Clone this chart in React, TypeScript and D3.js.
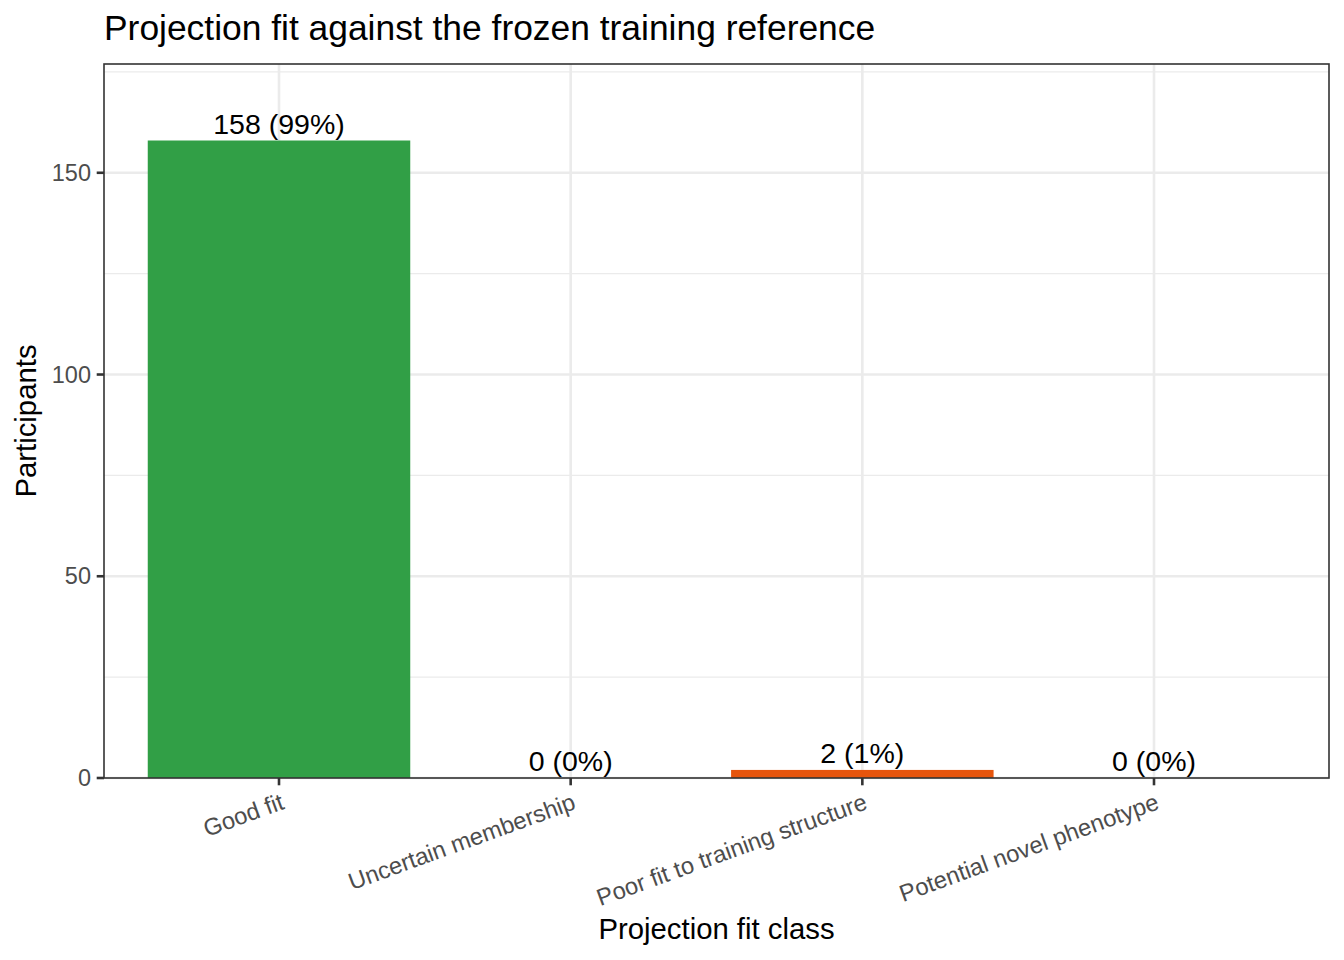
import React from "react";
import * as d3 from "d3";

const categories = [
  "Good fit",
  "Uncertain membership",
  "Poor fit to training structure",
  "Potential novel phenotype",
];
const counts = [158, 0, 2, 0];
const barColors = ["#319f46", "#7570b3", "#e6550d", "#984ea3"];
const yTicks = [0, 50, 100, 150];
const yMinorTicks = [25, 75, 125, 175];

const W = 1344;
const H = 960;
const panel = { left: 104, right: 1329, top: 64, bottom: 778 };
const FONT = "'Liberation Sans', Arial, Helvetica, sans-serif";

export default function App() {
  const total = d3.sum(counts);
  const x = d3
    .scalePoint<string>()
    .domain(categories)
    .range([panel.left, panel.right])
    .padding(0.6);
  const step = x.step();
  const barW = step * 0.9;
  const yMax = (d3.max(counts) as number) * 1.12;
  const y = d3.scaleLinear().domain([0, yMax]).range([panel.bottom, panel.top]);

  return (
    <svg
      width={W}
      height={H}
      style={{ display: "block", position: "absolute", left: 0, top: 0 }}
      fontFamily={FONT}
    >
      <rect x={0} y={0} width={W} height={H} fill="#ffffff" />
      {/* panel background */}
      <rect
        x={panel.left}
        y={panel.top}
        width={panel.right - panel.left}
        height={panel.bottom - panel.top}
        fill="#ffffff"
      />
      {/* minor grid */}
      {yMinorTicks
        .filter((t) => t <= yMax)
        .map((t) => (
          <line
            key={"mn" + t}
            x1={panel.left}
            x2={panel.right}
            y1={y(t)}
            y2={y(t)}
            stroke="#ebebeb"
            strokeWidth={1.4}
          />
        ))}
      {/* major grid */}
      {yTicks.map((t) => (
        <line
          key={"mj" + t}
          x1={panel.left}
          x2={panel.right}
          y1={y(t)}
          y2={y(t)}
          stroke="#ebebeb"
          strokeWidth={2.6}
        />
      ))}
      {categories.map((c) => (
        <line
          key={"vx" + c}
          x1={x(c)}
          x2={x(c)}
          y1={panel.top}
          y2={panel.bottom}
          stroke="#ebebeb"
          strokeWidth={2.6}
        />
      ))}
      {/* bars */}
      {categories.map((c, i) => (
        <rect
          key={"bar" + c}
          x={(x(c) as number) - barW / 2}
          y={y(counts[i])}
          width={barW}
          height={y(0) - y(counts[i])}
          fill={barColors[i]}
        />
      ))}
      {/* bar labels */}
      {categories.map((c, i) => (
        <text
          key={"lab" + c}
          x={x(c)}
          y={y(counts[i]) - 7}
          textAnchor="middle"
          fontSize={28.5}
          fill="#000000"
        >
          {`${counts[i]} (${Math.round((counts[i] / total) * 100)}%)`}
        </text>
      ))}
      {/* panel border */}
      <rect
        x={panel.left}
        y={panel.top}
        width={panel.right - panel.left}
        height={panel.bottom - panel.top}
        fill="none"
        stroke="#333333"
        strokeWidth={1.6}
      />
      {/* y ticks */}
      {yTicks.map((t) => (
        <g key={"yt" + t}>
          <line
            x1={panel.left - 7.3}
            x2={panel.left}
            y1={y(t)}
            y2={y(t)}
            stroke="#333333"
            strokeWidth={2.6}
          />
          <text
            x={panel.left - 13}
            y={y(t)}
            dy="0.35em"
            textAnchor="end"
            fontSize={23.5}
            fill="#4d4d4d"
          >
            {t}
          </text>
        </g>
      ))}
      {/* x ticks */}
      {categories.map((c) => (
        <g key={"xt" + c}>
          <line
            x1={x(c)}
            x2={x(c)}
            y1={panel.bottom}
            y2={panel.bottom + 7.3}
            stroke="#333333"
            strokeWidth={2.6}
          />
          <text
            transform={`translate(${x(c)},${panel.bottom + 13}) rotate(-20)`}
            dy="0.78em"
            textAnchor="end"
            fontSize={23.8}
            fill="#4d4d4d"
          >
            {c}
          </text>
        </g>
      ))}
      {/* axis titles */}
      <text
        x={(panel.left + panel.right) / 2}
        y={939}
        textAnchor="middle"
        fontSize={29.3}
        fill="#000000"
      >
        Projection fit class
      </text>
      <text
        transform={`translate(36,${(panel.top + panel.bottom) / 2}) rotate(-90)`}
        textAnchor="middle"
        fontSize={29.3}
        fill="#000000"
      >
        Participants
      </text>
      {/* title */}
      <text x={panel.left} y={40} fontSize={35.4} fill="#000000">
        Projection fit against the frozen training reference
      </text>
    </svg>
  );
}
